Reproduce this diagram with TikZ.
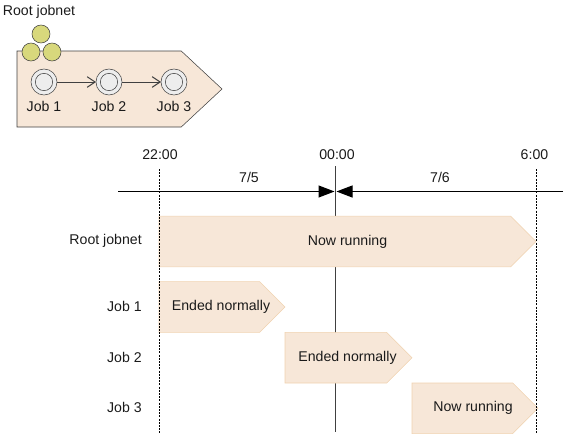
\documentclass[tikz,border=0pt]{standalone}
\usepackage{fontspec}
\setmainfont{Liberation Sans}
\usepackage{xcolor}
\usepackage{tikz}
\usetikzlibrary{
  shapes.symbols,
  arrows.meta,
  positioning,
  calc,
  backgrounds
}
\definecolor{barfill}{HTML}{F7E7D8}
\definecolor{barline}{HTML}{F0D2B0}
\definecolor{ballfill}{HTML}{D8D87C}
\definecolor{ringfill}{HTML}{EDEDED}
\definecolor{inkline}{HTML}{404040}
\definecolor{inktext}{HTML}{1A1A1A}
\tikzstyle{jobbar} = [
  signal, signal to=east, signal from=nowhere, signal pointer angle=90,
  draw=barline, fill=barfill, minimum height=38pt, inner sep=0pt,
  outer sep=0pt
]
\tikzstyle{netbox} = [
  signal, signal to=east, signal from=nowhere, signal pointer angle=86,
  draw=inkline, fill=barfill, minimum width=153.75pt, minimum height=57pt,
  inner sep=0pt, outer sep=0pt
]
\tikzstyle{ball} = [
  circle, draw=inkline, fill=ballfill, minimum size=13.5pt, inner sep=0pt
]
\tikzstyle{jobring} = [
  circle, draw=inkline, fill=ringfill, minimum size=19.5pt, inner sep=0pt,
  outer sep=0pt
]
\tikzstyle{jobcore} = [
  circle, draw=inkline, minimum size=13pt, inner sep=0pt
]
\tikzstyle{textlabel} = [
  inner sep=0pt, font=\fontsize{10.6}{13}\selectfont, text=inktext
]
\tikzstyle{flowarrow} = [-{Straight Barb[length=6pt, width=8pt]}, draw=inkline, line width=0.75pt]
\tikzstyle{axisarrow} = [-{Triangle[length=12pt, width=9pt]}, black, line width=0.75pt]
\tikzstyle{guide} = [dash pattern=on 1.5pt off 0.9pt, black, line width=0.75pt]

\begin{document}
\begin{tikzpicture}[x=0.75pt, y=-0.75pt]
\useasboundingbox (0,0) rectangle (565,439);

% --- Root jobnet icon ---
\node[textlabel] (nettitle) at (39,12) {Root jobnet};
\node[netbox, anchor=west] (netbox) at (17,89) {};
\node[ball] (balltop) at (41,34) {};
\node[ball] (ballleft) at (31,52) {};
\node[ball] (ballright) at (52,52) {};
\node[jobring] (ring1) at (44,82) {};
\node[jobring, right=29.25pt of ring1] (ring2) {};
\node[jobring, right=29.25pt of ring2] (ring3) {};
\node[jobcore] (core1) at (ring1) {};
\node[jobcore] (core2) at (ring2) {};
\node[jobcore] (core3) at (ring3) {};
\node[textlabel, below=4.5pt of ring1] (name1) {Job 1};
\node[textlabel, below=4.5pt of ring2] (name2) {Job 2};
\node[textlabel, below=4.5pt of ring3] (name3) {Job 3};

\draw[flowarrow] (ring1) -- (ring2);
\draw[flowarrow] (ring2) -- (ring3);

% --- Time axis ---
\coordinate (axisleft) at (118,191.5);
\coordinate (axisright) at (563,191.5);
\coordinate (midtop) at (335.5,166);
\coordinate (midbottom) at (335.5,432);
\coordinate (midleft) at (334.5,191.5);
\coordinate (midright) at (336.5,191.5);
\coordinate (starttop) at (159,169);
\coordinate (startbottom) at (159,433);
\coordinate (endtop) at (536,169);
\coordinate (endbottom) at (536,433);

\node[textlabel] (time22) at (160,155) {22:00};
\node[textlabel] (time00) at (337,155) {00:00};
\node[textlabel] (time06) at (534.5,155) {6:00};
\node[textlabel] (day5) at (249,177) {7/5};
\node[textlabel] (day6) at (440,177) {7/6};

% --- Bars ---
\node[jobbar, minimum width=282.75pt, anchor=west] (rootbar) at (159,241.5) {};
\node[jobbar, minimum width=94.5pt, anchor=west] (bar1) at (159,307) {};
\node[jobbar, minimum width=95.25pt, right=0pt of bar1.east, yshift=-38pt, anchor=west] (bar2) {};
\node[jobbar, minimum width=94.5pt, right=0pt of bar2.east, yshift=-38pt, anchor=west] (bar3) {};

\node[textlabel, yshift=-0.4pt] (rootstate) at ($(rootbar.west)!0.5!(rootbar.east)$) {Now running};
\node[textlabel, xshift=-0.75pt] (state1) at ($(bar1.west)!0.5!(bar1.east)$) {Ended normally};
\node[textlabel, xshift=-0.75pt] (state2) at ($(bar2.west)!0.5!(bar2.east)$) {Ended normally};
\node[textlabel, xshift=-1.5pt] (state3) at ($(bar3.west)!0.5!(bar3.east)$) {Now running};

\node[textlabel, anchor=east] (rootname) at (142,241) {Root jobnet};
\node[textlabel, anchor=east] (jobname1) at (142,306) {Job 1};
\node[textlabel, anchor=east] (jobname2) at (142,357) {Job 2};
\node[textlabel, anchor=east] (jobname3) at (142,407.5) {Job 3};

% --- Arrows ---
\draw[axisarrow] (axisleft) -- (midleft);
\draw[axisarrow] (axisright) -- (midright);
\draw[guide] (starttop) -- (startbottom);
\draw[guide] (endtop) -- (endbottom);

% --- Midnight line ---
\begin{scope}[on background layer]
  \draw[inkline, line width=0.75pt] (midtop) -- (midbottom);
\end{scope}

\end{tikzpicture}
\end{document}
